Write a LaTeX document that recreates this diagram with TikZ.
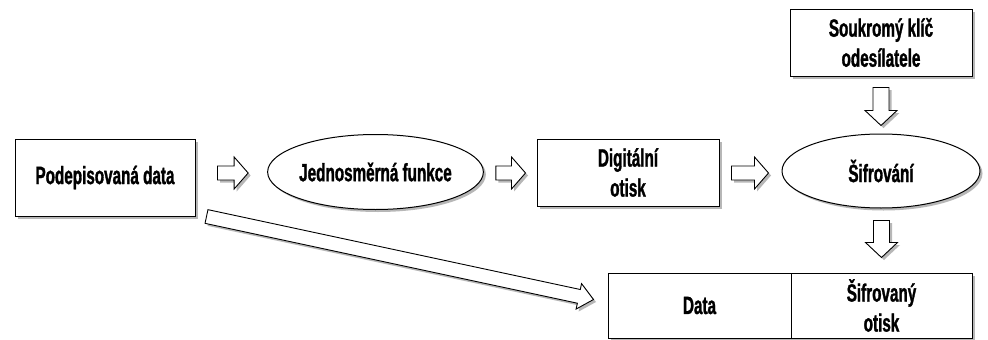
\documentclass[tikz,border=0pt]{standalone}
\usepackage{fontspec}
\setmainfont{Liberation Sans}[FakeStretch=0.61, BoldFeatures={FakeBold=1.2}]
\usetikzlibrary{calc,shadows,shapes.geometric}
\tikzset{
  shad/.style={drop shadow={shadow xshift=2.5pt,shadow yshift=-2.5pt,fill=black!40,opacity=0.7}},
  box/.style={draw, line width=1pt, fill=white, shad, font=\bfseries\fontsize{25}{30}\selectfont, align=center, inner sep=0pt},
  ell/.style={box, ellipse},
  barrow/.style={draw, line width=0.9pt, fill=white, shad, line join=miter},
}
\newcommand\blockarr[5]{%
  \coordinate (ba-a) at #1; \coordinate (ba-b) at #2;
  \coordinate (ba-n) at ($(ba-b)!#5!(ba-a)$);
  \draw[barrow] ($(ba-a)!#3!90:(ba-b)$) -- ($(ba-n)!#3!-90:(ba-a)$) -- ($(ba-n)!#4!-90:(ba-a)$) -- (ba-b) -- ($(ba-n)!#4!90:(ba-a)$) -- ($(ba-n)!#3!90:(ba-a)$) -- ($(ba-a)!#3!-90:(ba-b)$) -- cycle;}
\begin{document}
\begin{tikzpicture}[x=1pt,y=-1pt]
\useasboundingbox[fill=white] (0,0) rectangle (988,340);
\node[box, minimum width=180pt, minimum height=77pt] (P) at (105,177.5) {Podepisovaná data};
\node[ell, minimum width=199pt, minimum height=75pt] (E1) at (375.5,172) {Jednosměrná funkce};
\node[box, minimum width=182pt, minimum height=67pt] (D) at (628,172.5) {Digitální\\otisk};
\node[ell, minimum width=198pt, minimum height=74pt] (E2) at (881,171) {Šifrování};
\node[box, minimum width=182pt, minimum height=67pt] (S) at (881,42.5) {Soukromý klíč\\odesílatele};
\node[box, minimum width=183pt, minimum height=65pt] (DA) at (699.5,305.5) {Data};
\node[box, minimum width=181pt, minimum height=65pt] (SO) at (881.5,305.5) {Šifrovaný\\otisk};
\coordinate (row) at (0,173);
\blockarr{($(P.east |- row)+(22,0)$)}{($(E1.west |- row)+(-19,0)$)}{7pt}{16pt}{14pt}
\blockarr{($(E1.east |- row)+(12,0)$)}{($(D.west |- row)+(-11,0)$)}{7pt}{16pt}{14pt}
\blockarr{($(D.east |- row)+(12,0)$)}{($(E2.west |- row)+(-13,0)$)}{7pt}{16pt}{14pt}
\blockarr{($(S.south)+(0,11)$)}{($(S.south |- E2.north)+(0,-8)$)}{8pt}{16pt}{15pt}
\blockarr{($(SO.north |- E2.south)+(0,12)$)}{($(SO.north)+(0,-15)$)}{8pt}{16pt}{15pt}
\blockarr{($(P.south east)+(11,0)$)}{($(DA.west)+(-14,-6)$)}{7pt}{13pt}{15pt}
\end{tikzpicture}
\end{document}
